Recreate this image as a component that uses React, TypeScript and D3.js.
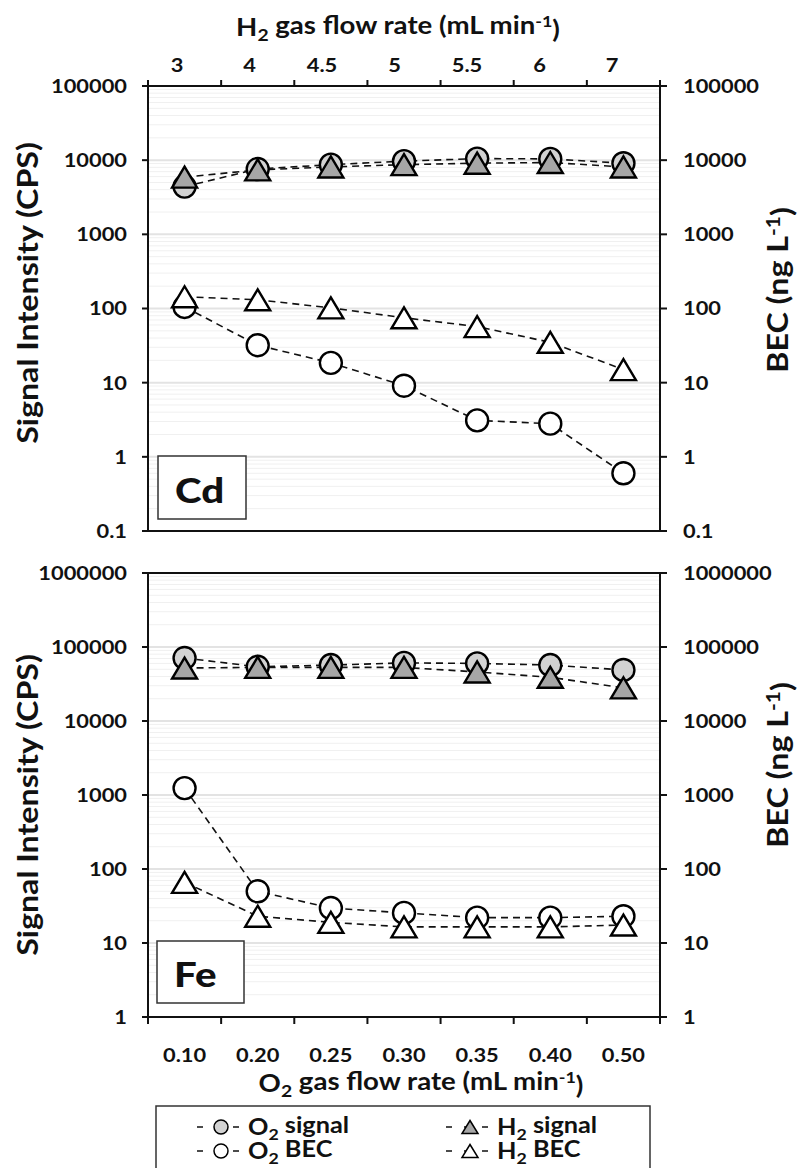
import React from "react";
import * as d3 from "d3";

// gas flow rates (categories)
const O2_RATES = ["0.10", "0.20", "0.25", "0.30", "0.35", "0.40", "0.50"];
const H2_RATES = ["3", "4", "4.5", "5", "5.5", "6", "7"];

// Cd panel
const CD_O2_SIGNAL = [4400, 7600, 8700, 9700, 10500, 10400, 9100];
const CD_H2_SIGNAL = [5900, 7400, 8100, 8700, 9100, 9300, 8100];
const CD_O2_BEC = [105, 32, 18.5, 9.1, 3.1, 2.8, 0.6];
const CD_H2_BEC = [144, 131, 102, 75, 57, 35, 15];

// Fe panel
const FE_O2_SIGNAL = [71000, 54000, 57000, 61000, 60000, 57000, 49000];
const FE_H2_SIGNAL = [52000, 53000, 53000, 53000, 46000, 39000, 28000];
const FE_O2_BEC = [1240, 50, 29.7, 25.5, 22, 22, 23];
const FE_H2_BEC = [66, 23, 19, 16.5, 16.5, 16.5, 17.5];

const FONT = "Lato, 'Open Sans', sans-serif";
const X0 = 148;
const X1 = 660;
const SX = 1.15; // the original typeface runs wider than Lato
const CIRCLE_FILL = "#d2d2d2";
const TRI_FILL = "#a6a6a6";

const x = d3.scaleBand<number>().domain(d3.range(7)).range([X0, X1]);
const cx = (i: number) => (x(i) ?? 0) + x.bandwidth() / 2;

const tri = (px: number, py: number, w: number, h: number) =>
  `M${px},${py - h / 2}L${px + w / 2},${py + h / 2}L${px - w / 2},${py + h / 2}Z`;

const line = d3.line<[number, number]>();

// stretched bold text
function T({ x, y, size, anchor = "start", weight = 700, rotate = 0, dy = "0", children }) {
  const tf = `translate(${x},${y})${rotate ? ` rotate(${rotate})` : ""} scale(${SX},1)`;
  return (
    <text transform={tf} dy={dy} textAnchor={anchor} fontSize={size} fontWeight={weight}>
      {children}
    </text>
  );
}

function Panel({ o2Sig, h2Sig, o2Bec, h2Bec, lo, hi, y0, y1, label, box, top, bottom }) {
  const y = d3.scaleLog().domain([lo, hi]).range([y1, y0]);
  const decades = d3.range(Math.log10(lo), Math.log10(hi) + 1).map((e) => Math.pow(10, e));
  const minors: number[] = [];
  decades.slice(0, -1).forEach((d) => {
    for (let k = 2; k < 10; k++) minors.push(d * k);
  });
  const fmt = (v: number) => (v < 1 ? String(v) : d3.format("d")(v));
  const pts = (vals: number[]) => vals.map((v, i) => [cx(i), y(v)] as [number, number]);
  const dash = (vals: number[], key: string) => (
    <path key={key} d={line(pts(vals)) ?? ""} fill="none" stroke="#111" strokeWidth={1.6} strokeDasharray="7,5" />
  );
  const circles = (vals: number[], fill: string, key: string) =>
    vals.map((v, i) => (
      <circle key={key + i} cx={cx(i)} cy={y(v)} r={11} fill={fill} stroke="#000" strokeWidth={2.4} />
    ));
  const tris = (vals: number[], fill: string, key: string) =>
    vals.map((v, i) => (
      <path key={key + i} d={tri(cx(i), y(v), 25, 21)} fill={fill} stroke="#000" strokeWidth={2.4} />
    ));
  const bounds = x.domain().map((i) => x(i) ?? 0).concat([X1]);

  return (
    <g>
      {minors.map((m) => (
        <line key={"mi" + m} x1={X0} x2={X1} y1={y(m)} y2={y(m)} stroke="#f0f0f0" strokeWidth={1} />
      ))}
      {decades.map((d) => (
        <line key={"ma" + d} x1={X0} x2={X1} y1={y(d)} y2={y(d)} stroke="#e3e3e3" strokeWidth={2} />
      ))}
      <rect x={X0} y={y0} width={X1 - X0} height={y1 - y0} fill="none" stroke="#111" strokeWidth={2} />
      {decades.map((d) => (
        <g key={"t" + d}>
          <line x1={X0 - 6} x2={X0} y1={y(d)} y2={y(d)} stroke="#111" strokeWidth={2} />
          <line x1={X1} x2={X1 + 7} y1={y(d)} y2={y(d)} stroke="#111" strokeWidth={2} />
          <T x={127} y={y(d)} dy="0.36em" anchor="end" size={19}>
            {fmt(d)}
          </T>
          <T x={683} y={y(d)} dy="0.36em" size={19}>
            {fmt(d)}
          </T>
        </g>
      ))}
      {top &&
        bounds.map((b, i) => <line key={"tt" + i} x1={b} x2={b} y1={y0 - 6} y2={y0 + 1} stroke="#111" strokeWidth={2} />)}
      {bottom &&
        bounds.map((b, i) => <line key={"bt" + i} x1={b} x2={b} y1={y1} y2={y1 + 7} stroke="#111" strokeWidth={2} />)}

      {dash(o2Sig, "l1")}
      {dash(h2Sig, "l2")}
      {dash(o2Bec, "l3")}
      {dash(h2Bec, "l4")}
      {circles(o2Sig, CIRCLE_FILL, "c1")}
      {tris(h2Sig, TRI_FILL, "t1")}
      {circles(o2Bec, "#fff", "c2")}
      {tris(h2Bec, "#fff", "t2")}

      <rect x={box[0]} y={box[1]} width={box[2]} height={box[3]} fill="#fff" stroke="#333" strokeWidth={1.5} />
      <T x={box[0] + 17} y={box[1] + box[3] - 16} size={35} weight={900}>
        {label}
      </T>
    </g>
  );
}

function Sub({ children }) {
  return (
    <tspan fontSize="0.7em" dy="0.3em">
      {children}
    </tspan>
  );
}

function Unit() {
  return (
    <>
      <tspan dy="-0.3em"> gas flow rate (mL min</tspan>
      <tspan fontSize="0.65em" dy="-0.45em">-1</tspan>
      <tspan dy="0.45em">)</tspan>
    </>
  );
}

export default function App() {
  const topLab = d3.scalePoint().domain(H2_RATES).range([177, 612]);

  const legend = [
    { name: "O", sub: "2", rest: " signal", shape: "c", fill: CIRCLE_FILL, lx: 197, ly: 1127 },
    { name: "O", sub: "2", rest: " BEC", shape: "c", fill: "#fff", lx: 197, ly: 1151 },
    { name: "H", sub: "2", rest: " signal", shape: "t", fill: TRI_FILL, lx: 446, ly: 1127 },
    { name: "H", sub: "2", rest: " BEC", shape: "t", fill: "#fff", lx: 446, ly: 1151 },
  ];

  return (
    <svg
      width={801}
      height={1168}
      style={{ position: "absolute", left: 0, top: 0, background: "#fff" }}
      fontFamily={FONT}
      fill="#111"
    >
      <T x={398} y={36} anchor="middle" size={24}>
        H<Sub>2</Sub>
        <Unit />
      </T>
      {H2_RATES.map((r) => (
        <T key={r} x={topLab(r)} y={72} anchor="middle" size={19}>
          {r}
        </T>
      ))}

      <Panel
        o2Sig={CD_O2_SIGNAL}
        h2Sig={CD_H2_SIGNAL}
        o2Bec={CD_O2_BEC}
        h2Bec={CD_H2_BEC}
        lo={0.1}
        hi={100000}
        y0={86}
        y1={531}
        label="Cd"
        box={[158, 456, 88, 63]}
        top={true}
        bottom={false}
      />
      <Panel
        o2Sig={FE_O2_SIGNAL}
        h2Sig={FE_H2_SIGNAL}
        o2Bec={FE_O2_BEC}
        h2Bec={FE_H2_BEC}
        lo={1}
        hi={1000000}
        y0={573}
        y1={1017}
        label="Fe"
        box={[157, 941, 87, 62]}
        top={false}
        bottom={true}
      />

      {[293, 805].map((cy) => (
        <T key={"yl" + cy} x={38} y={cy} rotate={-90} anchor="middle" size={28}>
          Signal Intensity (CPS)
        </T>
      ))}
      {[290, 765].map((cy) => (
        <T key={"yr" + cy} x={788} y={cy} rotate={-90} anchor="middle" size={28}>
          BEC (ng L<tspan fontSize="0.65em" dy="-0.45em">-1</tspan>
          <tspan dy="0.45em">)</tspan>
        </T>
      ))}

      {O2_RATES.map((r, i) => (
        <T key={r} x={cx(i)} y={1062} anchor="middle" size={19}>
          {r}
        </T>
      ))}
      <T x={421} y={1092} anchor="middle" size={24}>
        O<Sub>2</Sub>
        <Unit />
      </T>

      <rect x={156} y={1106} width={494} height={80} fill="#fff" stroke="#333" strokeWidth={1.5} />
      {legend.map((l) => (
        <g key={l.name + l.rest}>
          <line x1={l.lx} x2={l.lx + 46} y1={l.ly} y2={l.ly} stroke="#111" strokeWidth={1.5} strokeDasharray="6,12" />
          {l.shape === "c" ? (
            <circle cx={l.lx + 24} cy={l.ly} r={7} fill={l.fill} stroke="#000" strokeWidth={1.5} />
          ) : (
            <path d={tri(l.lx + 24, l.ly, 16, 13)} fill={l.fill} stroke="#000" strokeWidth={1.5} />
          )}
          <T x={l.lx + 51} y={l.ly + 8} size={22}>
            {l.name}
            <Sub>{l.sub}</Sub>
            <tspan dy="-0.3em">{l.rest}</tspan>
          </T>
        </g>
      ))}
    </svg>
  );
}
